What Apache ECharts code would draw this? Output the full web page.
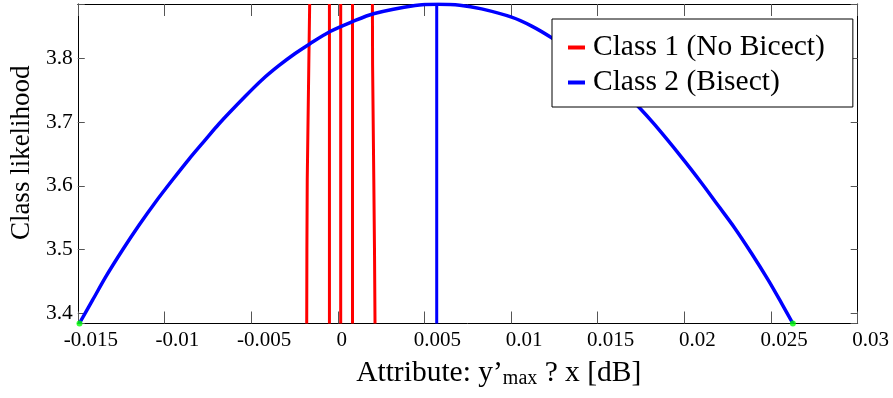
<!DOCTYPE html>
<html><head><meta charset="utf-8">
<script src="https://cdn.jsdelivr.net/npm/echarts@6/dist/echarts.min.js"></script>
<style>html,body{margin:0;padding:0;background:#fff}#c{width:893px;height:398px}</style>
</head><body><div id="c"></div>
<script>
// Class 2 (Bisect) likelihood curve
const curveX = [-0.01491, -0.01414, -0.01338, -0.01242, -0.01146, -0.0105, -0.00954, -0.00858, -0.00763, -0.00686, -0.00535, -0.00438, -0.00342, -0.00246, -0.0016, -0.00044, 0.00081, 0.00206, 0.00446, 0.0058, 0.00704, 0.0083, 0.01003, 0.01119, 0.01234, 0.0148, 0.0161, 0.01734, 0.0183, 0.01984, 0.02099, 0.02195, 0.02291, 0.02388, 0.02484, 0.02561, 0.02626];
const curveY = [3.384, 3.4209, 3.4575, 3.4993, 3.5385, 3.5751, 3.6091, 3.642, 3.6725, 3.697, 3.740, 3.766, 3.788, 3.8075, 3.823, 3.842, 3.857, 3.870, 3.8830, 3.8848, 3.8834, 3.8775, 3.8645, 3.8505, 3.8322, 3.788, 3.758, 3.7245, 3.6955, 3.6447, 3.6045, 3.569, 3.5335, 3.4938, 3.452, 3.4156, 3.384];
// Class 2 vertical line
const class2LineX = [0.00571, 0.00571];
const class2LineY = [3.384, 3.8852];
// Class 1 (No Bicect) vertical curves
const class1Y = [3.384, 3.5, 3.61, 3.79, 3.8852];
const class1X = [
  [-0.00179, -0.00178, -0.00176, -0.00167, -0.00162],
  [-0.00048, -0.00048, -0.00048, -0.00048, -0.00048],
  [0.00017, 0.00017, 0.00017, 0.00017, 0.00017],
  [0.00085, 0.00085, 0.00085, 0.00085, 0.00085],
  [0.00215, 0.00212, 0.00208, 0.00201, 0.00200]
];
// end points (green)
const endX = [-0.0149, 0.02626];
const endY = [3.384, 3.384];

const name1 = 'Class 1 (No Bicect)';
const name2 = 'Class 2 (Bisect)';
const FONT = 'Liberation Serif';
const zip = (xs, ys) => xs.map((x, i) => [x, ys[i]]);

const series = [];
class1X.forEach(xs => series.push({
  type: 'line', name: name1, data: zip(xs, class1Y), symbol: 'none',
  lineStyle: {color: '#ff0000', width: 3}, itemStyle: {color: '#ff0000'}, z: 2
}));
series.push({type: 'line', name: name2, data: zip(curveX, curveY), symbol: 'none', smooth: 0.3,
  lineStyle: {color: '#0000ff', width: 3.5, join: 'round'}, itemStyle: {color: '#0000ff'}, z: 3});
series.push({type: 'line', name: name2, data: zip(class2LineX, class2LineY), symbol: 'none',
  lineStyle: {color: '#0000ff', width: 3}, itemStyle: {color: '#0000ff'}, z: 3});
series.push({type: 'scatter', name: 'ends', data: zip(endX, endY), symbolSize: 6,
  itemStyle: {color: '#00ff00'}, z: 4});

const xFmt = v => {
  const r = Math.round(v * 1000) / 1000;
  return Math.abs(r) < 1e-9 ? '{z|0}' : '{a|' + String(r) + '}';
};
const yFmt = v => Math.abs(v * 10 - Math.round(v * 10)) < 1e-6 ? v.toFixed(1) : '';

const chart = echarts.init(document.getElementById('c'), null, {renderer: 'canvas'});
chart.setOption({
  animation: false,
  backgroundColor: '#fff',
  grid: {left: 75, right: 35.3, top: 4, bottom: 74.5, containLabel: false},
  legend: {
    data: [name1, name2], orient: 'vertical', left: 552, top: 19,
    padding: [13, 28, 9, 16], itemWidth: 17, itemHeight: 4, itemGap: 4, icon: 'rect',
    backgroundColor: '#fff', borderColor: '#000', borderWidth: 1,
    textStyle: {fontFamily: FONT, fontSize: 29.5, lineHeight: 31, color: '#000', padding: [0, 0, 0, 3]},
    selectedMode: false
  },
  xAxis: [{
    type: 'value', position: 'bottom', min: -0.015, max: 0.03, interval: 0.005,
    axisLine: {onZero: false, lineStyle: {color: '#000', width: 1}},
    axisTick: {inside: true, length: 12, lineStyle: {color: '#555'}},
    axisLabel: {fontFamily: FONT, fontSize: 21, color: '#000', margin: 6, formatter: xFmt,
      rich: {a: {fontFamily: FONT, fontSize: 21, color: '#000', padding: [0, 0, 0, 26]},
             z: {fontFamily: FONT, fontSize: 21, color: '#000', padding: [0, 0, 0, 8]}}},
    splitLine: {show: false},
    name: '{m|Attribute: y’}{s|max}{m| ? x [dB]}', nameLocation: 'middle', nameGap: 35,
    nameTextStyle: {fontFamily: FONT, color: '#000', padding: [0, 0, 0, 62],
      rich: {m: {fontFamily: FONT, fontSize: 29.5, color: '#000', verticalAlign: 'bottom'},
             s: {fontFamily: FONT, fontSize: 20, color: '#000', verticalAlign: 'bottom'}}}
  }, {
    type: 'value', position: 'top', min: -0.015, max: 0.03, interval: 0.005,
    axisLine: {onZero: false, lineStyle: {color: '#000', width: 1}},
    axisTick: {inside: true, length: 12, lineStyle: {color: '#555'}},
    axisLabel: {show: false}, splitLine: {show: false}
  }],
  yAxis: [{
    type: 'value', position: 'left', min: 3.384, max: 3.8852, splitNumber: 5,
    axisLine: {onZero: false, lineStyle: {color: '#000', width: 1}},
    axisTick: {inside: true, length: 7, lineStyle: {color: '#555'}},
    axisLabel: {fontFamily: FONT, fontSize: 21.5, color: '#000', margin: 5, formatter: yFmt},
    splitLine: {show: false},
    name: 'Class likelihood', nameLocation: 'middle', nameGap: 36,
    nameTextStyle: {fontFamily: FONT, fontSize: 27, color: '#000', padding: [0, 0, 0, 22]}
  }, {
    type: 'value', position: 'right', min: 3.384, max: 3.8852, splitNumber: 5,
    axisLine: {onZero: false, lineStyle: {color: '#000', width: 1}},
    axisTick: {inside: true, length: 7, lineStyle: {color: '#555'}},
    axisLabel: {show: false}, splitLine: {show: false}
  }],
  series: series
});
</script></body></html>
